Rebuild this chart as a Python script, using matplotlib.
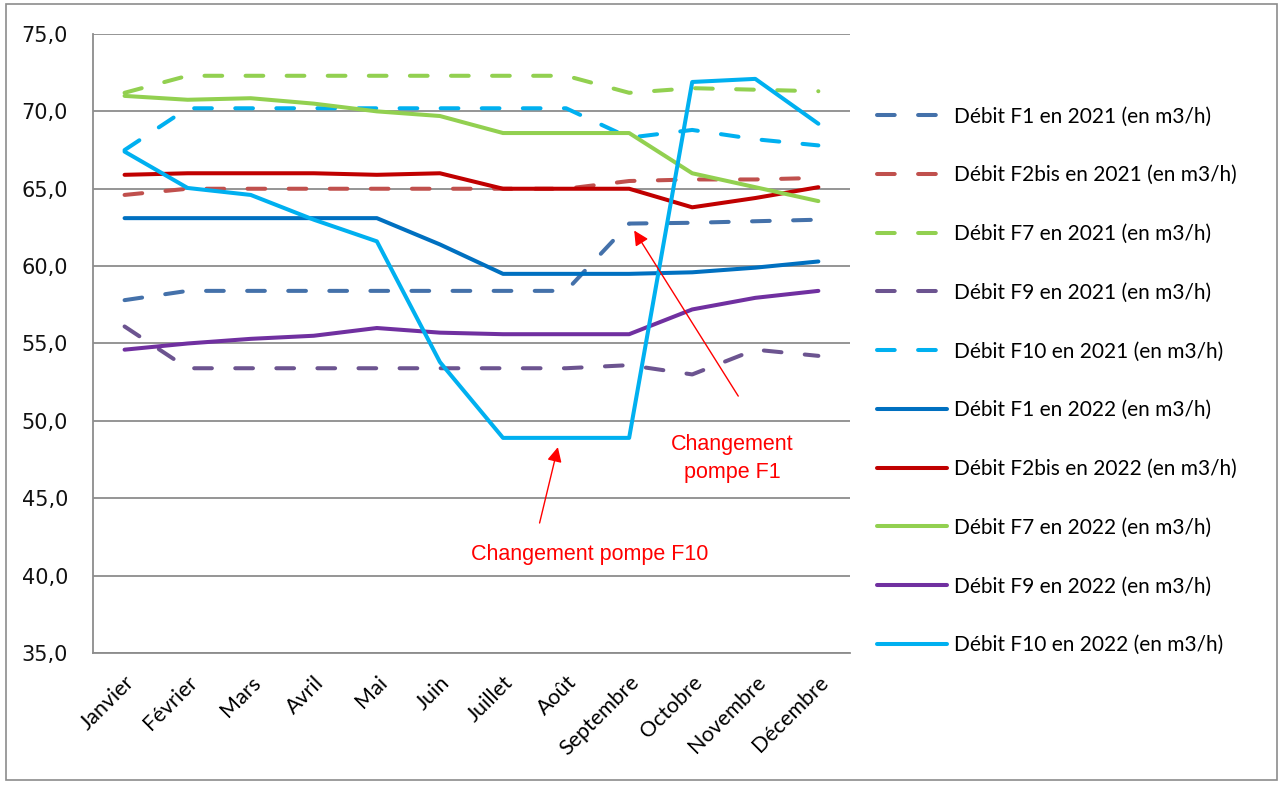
import matplotlib.pyplot as plt
import matplotlib.transforms as mtransforms
from matplotlib.patches import Rectangle
from matplotlib.ticker import FuncFormatter

mois = ['Janvier', 'Février', 'Mars', 'Avril', 'Mai', 'Juin', 'Juillet',
        'Août', 'Septembre', 'Octobre', 'Novembre', 'Décembre']

# debits 2021 (pointilles)
f1_2021 = [57.8, 58.4, 58.4, 58.4, 58.4, 58.4, 58.4, 58.4, 62.75, 62.8, 62.9, 63.0]
f2bis_2021 = [64.6, 65.0, 65.0, 65.0, 65.0, 65.0, 65.0, 65.0, 65.5, 65.6, 65.6, 65.7]
f7_2021 = [71.2, 72.3, 72.3, 72.3, 72.3, 72.3, 72.3, 72.3, 71.2, 71.5, 71.4, 71.3]
f9_2021 = [56.1, 53.4, 53.4, 53.4, 53.4, 53.4, 53.4, 53.4, 53.6, 53.0, 54.6, 54.2]
f10_2021 = [67.5, 70.2, 70.2, 70.2, 70.2, 70.2, 70.2, 70.2, 68.3, 68.8, 68.2, 67.8]

# debits 2022 (traits pleins)
f1_2022 = [63.1, 63.1, 63.1, 63.1, 63.1, 61.4, 59.5, 59.5, 59.5, 59.6, 59.9, 60.3]
f2bis_2022 = [65.9, 66.0, 66.0, 66.0, 65.9, 66.0, 65.0, 65.0, 65.0, 63.8, 64.4, 65.1]
f7_2022 = [71.0, 70.75, 70.85, 70.5, 70.0, 69.7, 68.6, 68.6, 68.6, 66.0, 65.1, 64.2]
f9_2022 = [54.6, 55.0, 55.3, 55.5, 56.0, 55.7, 55.6, 55.6, 55.6, 57.2, 57.95, 58.4]
f10_2022 = [67.4, 65.05, 64.6, 63.0, 61.6, 53.8, 48.9, 48.9, 48.9, 71.9, 72.1, 69.2]

series = [
    ('Débit F1 en 2021 (en m3/h)', f1_2021, '#4471AA', True),
    ('Débit F2bis en 2021 (en m3/h)', f2bis_2021, '#C0504D', True),
    ('Débit F7 en 2021 (en m3/h)', f7_2021, '#92D050', True),
    ('Débit F9 en 2021 (en m3/h)', f9_2021, '#6C5490', True),
    ('Débit F10 en 2021 (en m3/h)', f10_2021, '#00B0F0', True),
    ('Débit F1 en 2022 (en m3/h)', f1_2022, '#0070C0', False),
    ('Débit F2bis en 2022 (en m3/h)', f2bis_2022, '#C00000', False),
    ('Débit F7 en 2022 (en m3/h)', f7_2022, '#92D050', False),
    ('Débit F9 en 2022 (en m3/h)', f9_2022, '#7030A0', False),
    ('Débit F10 en 2022 (en m3/h)', f10_2022, '#00B0F0', False),
]

fig = plt.figure(figsize=(12.85, 7.87), dpi=100)
ax = fig.add_axes([0.0724, 0.1703, 0.589, 0.7865])

x = list(range(len(mois)))
for label, vals, color, dashed in series:
    if dashed:
        ax.plot(x, vals, color=color, lw=2.9, label=label,
                linestyle=(0, (4.4, 5.8)), dash_capstyle='round',
                solid_joinstyle='round', zorder=3)
    else:
        ax.plot(x, vals, color=color, lw=2.9, label=label,
                solid_capstyle='round', solid_joinstyle='round', zorder=3)

ax.set_xlim(-0.5, 11.5)
ax.set_ylim(35, 75)
ax.set_yticks(range(35, 76, 5))
ax.yaxis.set_major_formatter(FuncFormatter(lambda v, p: f'{v:.1f}'.replace('.', ',')))
ax.tick_params(axis='y', length=0, pad=18, labelsize=15, labelcolor='#111111')
ax.grid(axis='y', color='#8c8c8c', lw=1.3, zorder=1)
for s in ['top', 'right']:
    ax.spines[s].set_visible(False)
for s in ['left', 'bottom']:
    ax.spines[s].set_color('#8c8c8c')
    ax.spines[s].set_linewidth(1.3)

ax.set_xticks(x)
ax.set_xticklabels(mois, rotation=45, ha='right', va='center',
                   rotation_mode='anchor', fontsize=15.5, family='Lato')
ax.tick_params(axis='x', length=0, pad=19)
shift = mtransforms.ScaledTranslation(7 / 100, 0, fig.dpi_scale_trans)
for t in ax.get_xticklabels():
    t.set_transform(t.get_transform() + shift)

# annotations
ax.annotate('', xy=(8.08, 62.3), xytext=(9.73, 51.6),
            arrowprops=dict(arrowstyle='-|>', color='#FF0000', lw=1.0,
                            mutation_scale=22, shrinkA=0, shrinkB=0))
ax.text(9.64, 46.3, 'Changement\npompe F1', color='#FF0000', fontsize=15.5,
        family='Liberation Sans', ha='center', va='baseline',
        linespacing=1.45)
ax.annotate('', xy=(6.87, 48.3), xytext=(6.58, 43.4),
            arrowprops=dict(arrowstyle='-|>', color='#FF0000', lw=1.0,
                            mutation_scale=22, shrinkA=0, shrinkB=0))
ax.text(7.37, 41.0, 'Changement pompe F10', color='#FF0000', fontsize=15.5,
        family='Liberation Sans', ha='center', va='baseline')

leg = ax.legend(loc='upper left', bbox_to_anchor=(0.6824, 0.8647),
                bbox_transform=fig.transFigure, frameon=False,
                prop={'family': 'Lato', 'size': 15}, handlelength=3.37,
                handletextpad=0.34, labelspacing=1.86, borderpad=0,
                borderaxespad=0)

# cadre exterieur
fig.patches.append(Rectangle((6 / 1285, 7 / 787), 1271 / 1285, 776 / 787,
                             transform=fig.transFigure, fill=False,
                             edgecolor='#8c8c8c', lw=1.2))

fig.savefig('out.png', dpi=100)
